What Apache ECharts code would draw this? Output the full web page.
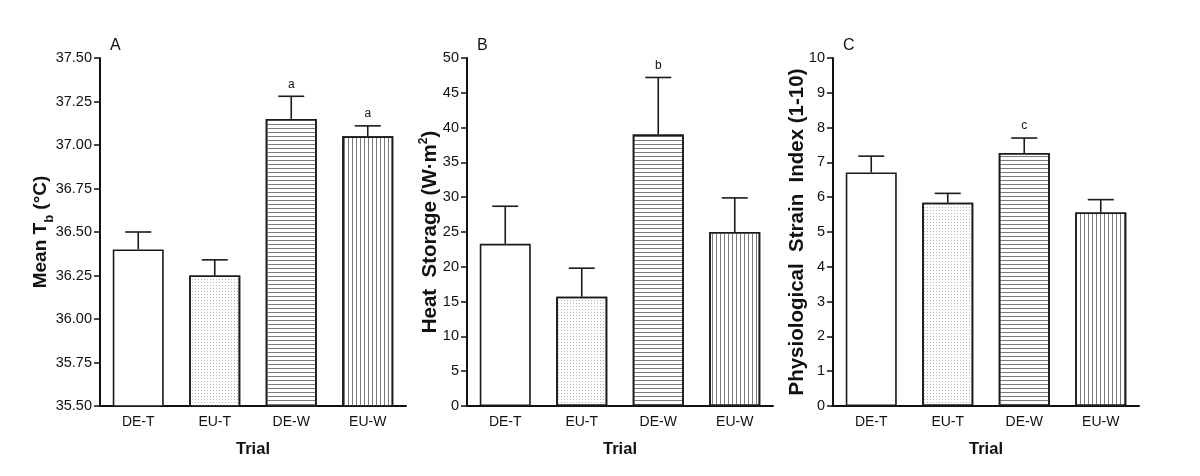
<!DOCTYPE html>
<html>
<head>
<meta charset="utf-8">
<script src="https://cdn.jsdelivr.net/npm/echarts@6/dist/echarts.min.js"></script>
<style>
  html, body { margin: 0; padding: 0; background: #fff; }
  #chart { width: 1200px; height: 476px; }
</style>
</head>
<body>
<div id="chart"></div>
<script>
// categories
const trials = ["DE-T", "EU-T", "DE-W", "EU-W"];

// A: mean body temperature (°C), mean and SEM
const tbMean = [36.40, 36.25, 37.15, 37.05];
const tbSem = [0.10, 0.09, 0.13, 0.06];
const tbSig = ["", "", "a", "a"];

// B: heat storage (W·m2)
const hsMean = [23.3, 15.7, 39.0, 25.0];
const hsSem = [5.4, 4.1, 8.2, 4.9];
const hsSig = ["", "", "b", ""];

// C: physiological strain index (1-10)
const psiMean = [6.71, 5.84, 7.27, 5.56];
const psiSem = [0.47, 0.27, 0.43, 0.37];
const psiSig = ["", "", "c", ""];

const FONT = "Liberation Sans, Arial, sans-serif";
const INK = "#111";

// fill patterns per trial
const patterns = [
  null,
  { symbol: "rect", symbolSize: 1, color: "#b4b4b4", dashArrayX: [1, 2], dashArrayY: [1, 2] },
  { symbol: "rect", symbolSize: 1, color: "#7a7a7a", dashArrayX: [1, 0], dashArrayY: [1, 2.7] },
  { symbol: "rect", symbolSize: 1, color: "#7a7a7a", dashArrayX: [1, 2.6], dashArrayY: [1, 0] },
];

const panels = [
  { letter: "A", left: 100, min: 35.5, max: 37.5, interval: 0.25, digits: 2, nameSize: 19,
    name: "{t|Mean T}{s|b}{t| (°C)}", nameGap: 47, mean: tbMean, sem: tbSem, sig: tbSig },
  { letter: "B", left: 467, min: 0, max: 50, interval: 5, digits: 0, nameSize: 20.5,
    name: "{t|Heat  Storage (W·m}{p|2}{t|)}", nameGap: 25, mean: hsMean, sem: hsSem, sig: hsSig },
  { letter: "C", left: 833, min: 0, max: 10, interval: 1, digits: 0, nameSize: 20.5,
    name: "{t|Physiological  Strain  Index (1-10)}", nameGap: 24, mean: psiMean, sem: psiSem, sig: psiSig },
];

const chart = echarts.init(document.getElementById("chart"));

let grid = [], xAxis = [], yAxis = [], series = [], title = [];

panels.forEach(function (p, k) {
  grid.push({ left: p.left, top: 58, width: 306, height: 348 });
  title.push({
    text: p.letter, left: p.left + 5, top: 33,
    textStyle: { fontFamily: FONT, fontSize: 16, fontWeight: "normal", color: INK },
  });
  xAxis.push({
    type: "category", gridIndex: k, data: trials,
    name: "Trial", nameLocation: "middle", nameGap: 35,
    nameTextStyle: { fontFamily: FONT, fontSize: 16.5, fontWeight: "bold", color: INK },
    axisLine: { lineStyle: { color: INK, width: 2 } },
    axisTick: { alignWithLabel: true, length: 6, lineStyle: { color: INK, width: 1.5 } },
    axisLabel: { fontFamily: FONT, fontSize: 14, color: INK, margin: 9 },
    splitLine: { show: false },
  });
  yAxis.push({
    type: "value", gridIndex: k, min: p.min, max: p.max, interval: p.interval,
    name: p.name, nameLocation: "middle", nameGap: p.nameGap,
    nameMoveOverlap: false,
    nameTextStyle: {
      rich: {
        t: { fontFamily: FONT, fontSize: p.nameSize, fontWeight: "bold", color: INK, lineHeight: 24 },
        s: { fontFamily: FONT, fontSize: 13, fontWeight: "bold", color: INK, verticalAlign: "bottom", lineHeight: 13, padding: [0, 0, -3, 0] },
        p: { fontFamily: FONT, fontSize: 12, fontWeight: "bold", color: INK, verticalAlign: "top", lineHeight: 12 },
      },
    },
    axisLine: { show: true, lineStyle: { color: INK, width: 2 } },
    axisTick: { show: true, length: 6, lineStyle: { color: INK, width: 1.5 } },
    axisLabel: {
      fontFamily: FONT, fontSize: 14.5, color: INK, margin: 8,
      formatter: function (v) { return v.toFixed(p.digits); },
    },
    splitLine: { show: false },
  });
  series.push({
    type: "bar", xAxisIndex: k, yAxisIndex: k, barWidth: 51,
    data: p.mean.map(function (v, i) {
      let style = { color: "#fff", borderColor: "#1a1a1a", borderWidth: 1.6 };
      if (patterns[i]) style.decal = patterns[i];
      return { value: v, itemStyle: style };
    }),
    emphasis: { disabled: true },
    silent: true,
    z: 2,
  });
  series.push({
    type: "custom", xAxisIndex: k, yAxisIndex: k,
    data: p.mean.map(function (v, i) { return [i, v, v + p.sem[i]]; }),
    encode: { x: 0, y: [1, 2] },
    renderItem: function (params, api) {
      const base = api.coord([api.value(0), api.value(1)]);
      const top = api.coord([api.value(0), api.value(2)]);
      const lineStyle = { stroke: "#1a1a1a", lineWidth: 1.6 };
      const children = [
        { type: "line", shape: { x1: base[0], y1: base[1], x2: top[0], y2: top[1] }, style: lineStyle },
        { type: "line", shape: { x1: top[0] - 13, y1: top[1], x2: top[0] + 13, y2: top[1] }, style: lineStyle },
      ];
      const letter = p.sig[params.dataIndex];
      if (letter) {
        children.push({
          type: "text",
          style: {
            text: letter, x: top[0], y: top[1] - 12,
            textAlign: "center", textVerticalAlign: "middle",
            font: "12px " + FONT, fill: INK,
          },
        });
      }
      return { type: "group", children: children };
    },
    silent: true,
    z: 3,
  });
});

chart.setOption({
  backgroundColor: "#fff",
  animation: false,
  title: title,
  grid: grid,
  xAxis: xAxis,
  yAxis: yAxis,
  series: series,
});
</script>
</body>
</html>
